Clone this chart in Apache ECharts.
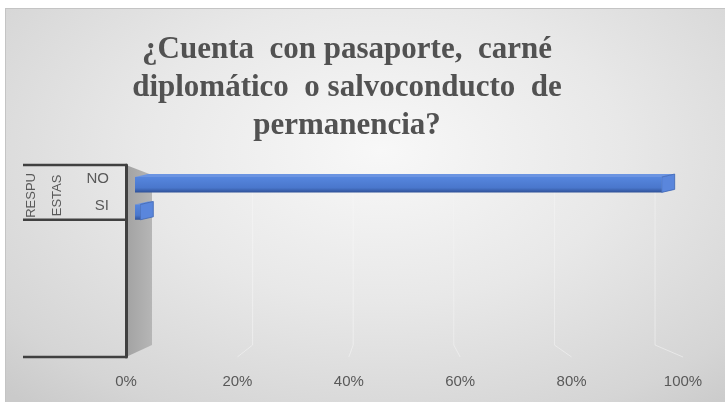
<!DOCTYPE html>
<html>
<head>
<meta charset="utf-8">
<script src="https://cdn.jsdelivr.net/npm/echarts@6/dist/echarts.min.js"></script>
<style>
  html, body { margin: 0; padding: 0; background: #ffffff; }
  #bg { position: absolute; left: 5px; top: 8px; width: 720px; height: 394px;
        border-top: 1px solid #c4c4c4; border-left: 1px solid #c4c4c4;
        background: radial-gradient(ellipse 75% 85% at 52% 36%, #f8f8f8 0%, #e8e8e8 45%, #d5d5d5 85%, #cacaca 100%); }
  #chart { position: absolute; left: 0; top: 0; width: 725px; height: 402px; }
</style>
</head>
<body>
<div id="bg"></div>
<div id="chart"></div>
<script>
// ---- data ----
const titleLines = ['¿Cuenta  con pasaporte,  carné', 'diplomático  o salvoconducto  de', 'permanencia?'];
const categories = ['NO', 'SI', '', '', '', '', ''];
const values = [99, 1];
const xTicks = [0, 20, 40, 60, 80, 100];
const groupLabel = ['RESPU', 'ESTAS'];
const groupSpan = [0, 1];

const textColor = '#595959';
const labelFont = "'Liberation Sans', Arial, sans-serif";

const chart = echarts.init(document.getElementById('chart'), null, { renderer: 'canvas' });

// bar-plane and back-plane insets (3D look)
const barInsetL = 9, barInsetR = 16, depthDx = 13, depthDy = 3;
const backL = 26, backR = 28, backT = 10, backB = 12;

function renderBar(params, api) {
  const v = api.value(0), c = api.value(1);
  const start = api.coord([0, c]);
  const end = api.coord([v, c]);
  const band = api.size([0, 1])[1];
  const r = params.coordSys;
  const px = x => r.x + barInsetL + (x - r.x) * (r.width - barInsetL - barInsetR) / r.width;
  const x0 = px(start[0]), x1 = px(end[0]);
  const yc = start[1] + 6;
  const h = band * 0.56;
  const top = yc - h / 2, bot = yc + h / 2;
  return {
    type: 'group',
    children: [
      { type: 'polygon', shape: { points: [[x0, top], [x1, top], [x1 + depthDx, top - depthDy], [x0 + depthDx, top - depthDy]] },
        style: { fill: '#6b94e2' } },
      { type: 'polygon', shape: { points: [[x1, top], [x1 + depthDx, top - depthDy], [x1 + depthDx, bot - depthDy], [x1, bot]] },
        style: { fill: '#5a86dc', stroke: '#3c64b4', lineWidth: 0.8 } },
      { type: 'rect', shape: { x: x0, y: top, width: Math.max(x1 - x0, 0.5), height: h },
        style: { fill: new echarts.graphic.LinearGradient(0, 0, 0, 1, [
          { offset: 0, color: '#5686de' }, { offset: 0.7, color: '#4a77cc' }, { offset: 1, color: '#2f5198' }]) } }
    ]
  };
}

chart.setOption({
  animation: false,
  grid: { left: 126, right: 42, top: 165, bottom: 45 },
  xAxis: {
    type: 'value', min: 0, max: 100, interval: 20,
    axisLine: { show: false }, axisTick: { show: false }, splitLine: { show: false },
    axisLabel: { formatter: '{value}%', color: textColor, fontSize: 15, fontFamily: labelFont, margin: 17 }
  },
  yAxis: {
    type: 'category', data: categories, inverse: true,
    axisLine: { show: true, lineStyle: { color: '#404040', width: 3 } },
    axisTick: { show: false },
    axisLabel: { color: textColor, fontSize: 15, fontFamily: labelFont, margin: 17, padding: [6, 0, 0, 0] },
    splitLine: { show: false }
  },
  series: [{
    type: 'custom', renderItem: renderBar,
    encode: { x: 0, y: 1 },
    data: values.map((v, i) => [v, i]), z: 5
  }]
});

// decorations derived from the axes
const y0 = chart.convertToPixel({ yAxisIndex: 0 }, 0);
const y1 = chart.convertToPixel({ yAxisIndex: 0 }, 1);
const band = y1 - y0;
const gTop = y0 - band / 2;
const gBottom = chart.convertToPixel({ yAxisIndex: 0 }, categories.length - 1) + band / 2;
const gSep = chart.convertToPixel({ yAxisIndex: 0 }, groupSpan[1]) + band / 2;
const axX = chart.convertToPixel({ xAxisIndex: 0 }, 0);
const axR = chart.convertToPixel({ xAxisIndex: 0 }, 100);
const W = axR - axX;
const lineLeft = 23;

const elements = [];
// left wall
elements.push({
  type: 'polygon', z: -1,
  shape: { points: [[axX, gTop], [axX + backL, gTop + backT], [axX + backL, gBottom - backB], [axX, gBottom]] },
  style: { fill: new echarts.graphic.LinearGradient(0, 0, 1, 0, [{ offset: 0, color: '#a2a2a2' }, { offset: 1, color: '#b6b6b6' }]) }
});
// back-plane gridlines
xTicks.slice(1).forEach(t => {
  const fx = chart.convertToPixel({ xAxisIndex: 0 }, t);
  const bx = axX + backL + (fx - axX) * (W - backL - backR) / W;
  elements.push({
    type: 'polyline', z: -1,
    shape: { points: [[bx, gTop + backT], [bx, gBottom - backB], [fx, gBottom]] },
    style: { stroke: 'rgba(245,245,245,0.55)', lineWidth: 1, fill: null }
  });
});
// hierarchical category lines
[gTop, gSep, gBottom].forEach(y => {
  elements.push({ type: 'line', z: 10, shape: { x1: lineLeft, y1: y, x2: axX, y2: y },
    style: { stroke: '#404040', lineWidth: 2.5 } });
});
// group label (rotated)
const gMid = (gTop + gSep) / 2 + 3;
[31, 57].forEach((x, i) => {
  elements.push({ type: 'text', z: 10, x: x, y: gMid, rotation: Math.PI / 2,
    style: { text: groupLabel[i], fill: textColor, font: "13px " + labelFont, align: 'center', verticalAlign: 'middle' } });
});
// title
elements.push({ type: 'text', z: 10, x: 347, y: 31,
  style: { text: titleLines.join('\n'), fill: '#525252', font: "bold 31px 'Liberation Serif', 'Times New Roman', serif",
    align: 'center', verticalAlign: 'top', lineHeight: 38 } });

chart.setOption({ graphic: { elements: elements } });
</script>
</body>
</html>
